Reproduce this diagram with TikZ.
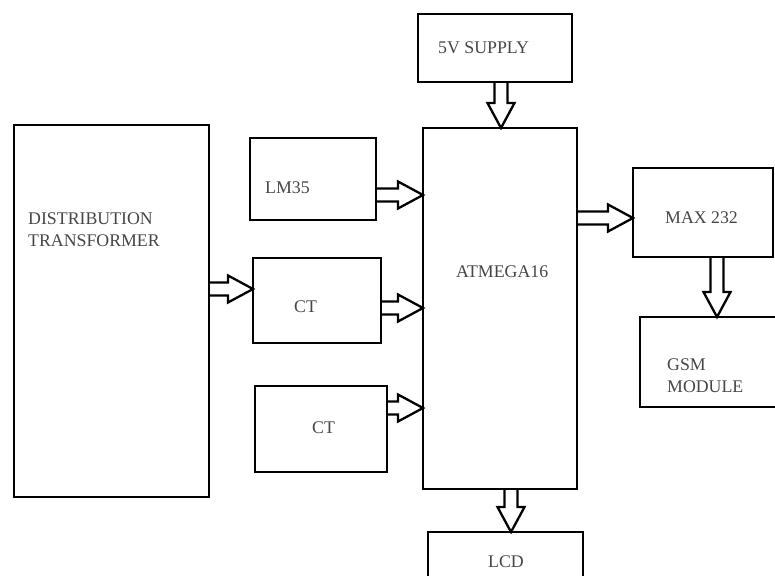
\documentclass[tikz,border=0pt]{standalone}
\usepackage{fontspec}
\setmainfont{Liberation Serif}
\usetikzlibrary{calc}
\definecolor{txtgray}{RGB}{70,70,70}
\tikzset{
  box/.style={draw, line width=2.8pt, rectangle, inner sep=0pt, outer sep=0pt},
  lbl/.style={font=\fontsize{17.8}{21}\selectfont, text=txtgray, inner sep=0pt, anchor=base west},
  blk/.style={draw, line width=2.3pt, line join=miter}
}
\newcommand\harr[3]{\draw[blk] let \p1=(#1.east), \p2=(#2.west) in
  (\x1,{-#3pt+6.5pt}) -- ({\x2-25pt},{-#3pt+6.5pt}) -- ({\x2-25pt},{-#3pt+13.5pt}) --
  (\x2,{-#3pt}) -- ({\x2-25pt},{-#3pt-13.5pt}) -- ({\x2-25pt},{-#3pt-6.5pt}) -- (\x1,{-#3pt-6.5pt});}
\newcommand\varr[3]{\draw[blk] let \p1=(#1.south), \p2=(#2.north) in
  ({#3pt-6.5pt},\y1) -- ({#3pt-6.5pt},{\y2+25pt}) -- ({#3pt-13.5pt},{\y2+25pt}) --
  ({#3pt},\y2) -- ({#3pt+13.5pt},{\y2+25pt}) -- ({#3pt+6.5pt},{\y2+25pt}) -- ({#3pt+6.5pt},\y1);}
\begin{document}
\begin{tikzpicture}[x=1pt,y=-1pt]
\useasboundingbox (0,0) rectangle (775,575);
\clip (0,0) rectangle (775,575);
% boxes
\node[box, minimum width=195pt, minimum height=372pt] (dt) at (111.5,311) {};
\node[box, minimum width=126pt, minimum height=82pt] (lm) at (313,179) {};
\node[box, minimum width=128pt, minimum height=85pt] (ct1) at (317,300.5) {};
\node[box, minimum width=132pt, minimum height=86pt] (ct2) at (321,429) {};
\node[box, minimum width=154pt, minimum height=361pt] (mcu) at (500,308.5) {};
\node[box, minimum width=154pt, minimum height=68pt] (sup) at (495,48) {};
\node[box, minimum width=140pt, minimum height=89pt] (max) at (703,212.5) {};
\node[box, minimum width=150pt, minimum height=90pt] (gsm) at (715,362) {};
\node[box, minimum width=155pt, minimum height=60pt] (lcd) at (505.5,562) {};
% labels
\node[lbl] (tdt1) at (28,224) {DISTRIBUTION};
\node[lbl] (tdt2) at (28,246) {TRANSFORMER};
\node[lbl] (tlm) at (265,193) {LM35};
\node[lbl] (tct1) at (294,312) {CT};
\node[lbl] (tct2) at (312,433) {CT};
\node[lbl] (tmcu) at (456,277) {ATMEGA16};
\node[lbl] (tsup) at (438,54) {5V SUPPLY};
\node[lbl] (tmax) at (665,223) {MAX 232};
\node[lbl] (tgsm1) at (667,370) {GSM};
\node[lbl] (tgsm2) at (667,392) {MODULE};
\node[lbl] (tlcd) at (488,567) {LCD};
% arrows
\harr{lm}{mcu}{195}
\harr{dt}{ct1}{289}
\harr{ct1}{mcu}{308}
\harr{ct2}{mcu}{408}
\harr{mcu}{max}{218}
\varr{sup}{mcu}{501}
\varr{max}{gsm}{717}
\varr{mcu}{lcd}{511}
\end{tikzpicture}
\end{document}
